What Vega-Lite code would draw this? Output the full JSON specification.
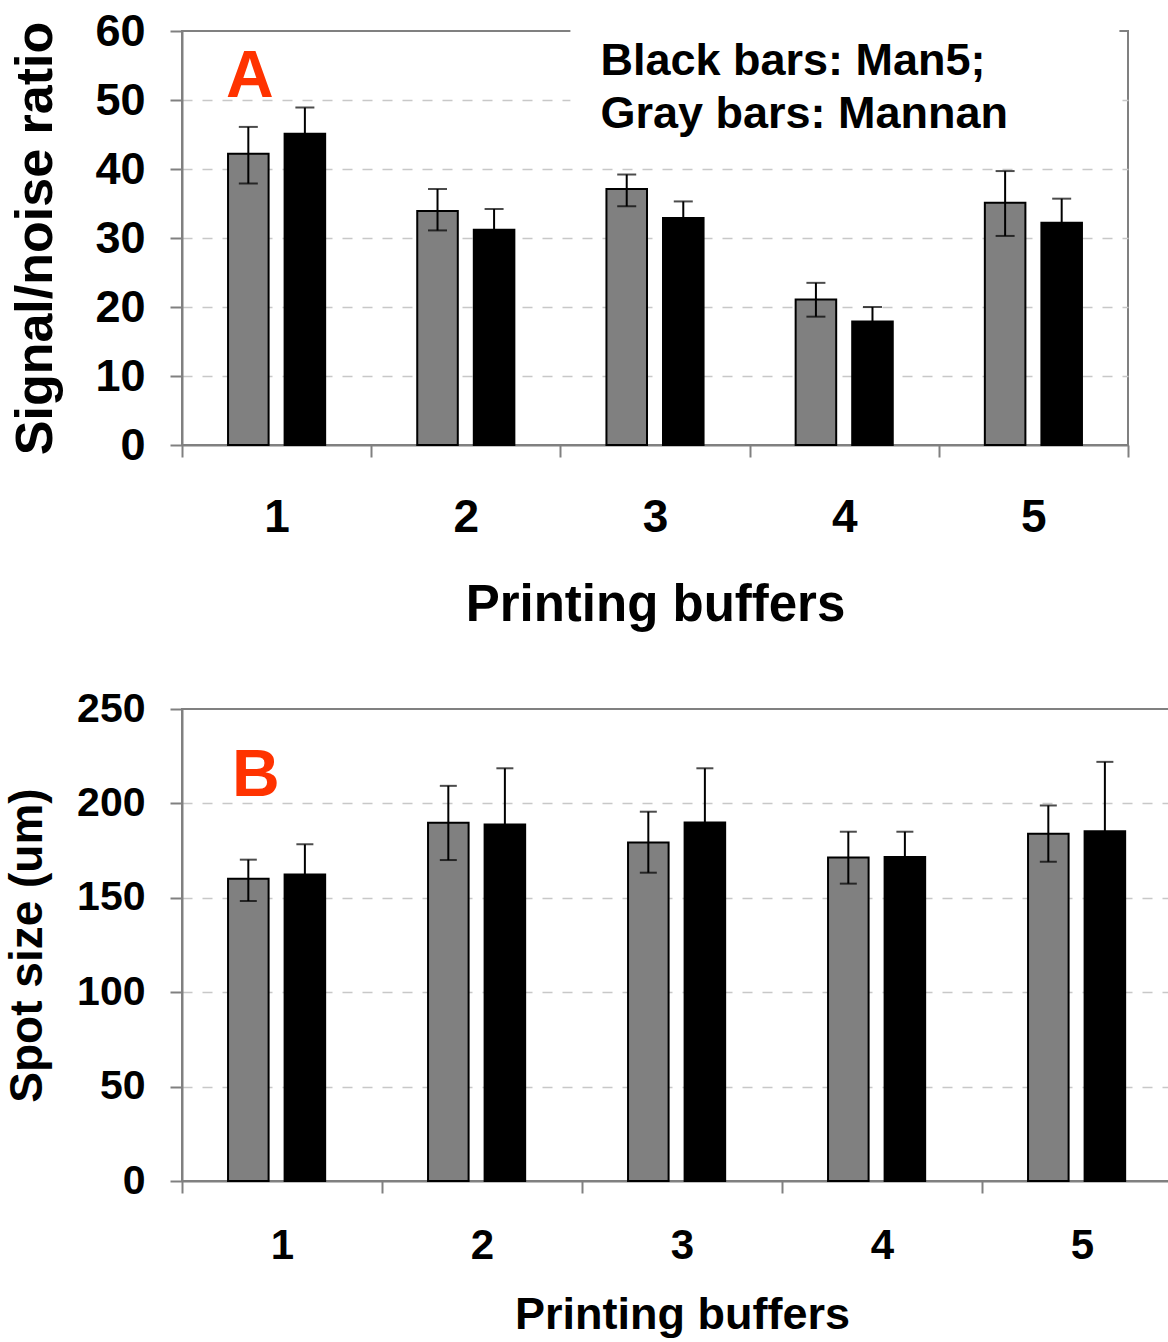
{
  "$schema": "https://vega.github.io/schema/vega-lite/v6.json",
  "padding": {"left": 3, "top": 8, "right": 0, "bottom": 0},
  "spacing": 56,
  "config": {
    "font": "Liberation Sans",
    "view": {"stroke": "#808080", "strokeWidth": 2},
    "axis": {
      "labelFontWeight": "bold", "titleFontWeight": "bold",
      "labelColor": "#000000", "titleColor": "#000000",
      "domainColor": "#808080", "domainWidth": 2,
      "tickColor": "#808080", "tickWidth": 2, "tickSize": 12
    }
  },
  "datasets": {
    "snr": [
      {"buffer": "1", "series": "Mannan", "v": 42.2, "lo": 37.9, "hi": 46.1},
      {"buffer": "1", "series": "Man5", "v": 45.1, "lo": 41.2, "hi": 48.9},
      {"buffer": "2", "series": "Mannan", "v": 33.9, "lo": 31.1, "hi": 37.1},
      {"buffer": "2", "series": "Man5", "v": 31.2, "lo": 28.2, "hi": 34.2},
      {"buffer": "3", "series": "Mannan", "v": 37.1, "lo": 34.6, "hi": 39.2},
      {"buffer": "3", "series": "Man5", "v": 32.9, "lo": 30.5, "hi": 35.3},
      {"buffer": "4", "series": "Mannan", "v": 21.1, "lo": 18.6, "hi": 23.5},
      {"buffer": "4", "series": "Man5", "v": 17.9, "lo": 15.8, "hi": 20.0},
      {"buffer": "5", "series": "Mannan", "v": 35.1, "lo": 30.3, "hi": 39.7},
      {"buffer": "5", "series": "Man5", "v": 32.2, "lo": 28.7, "hi": 35.7}
    ],
    "spot": [
      {"buffer": "1", "series": "Mannan", "v": 160.1, "lo": 148.3, "hi": 170.2},
      {"buffer": "1", "series": "Man5", "v": 162.4, "lo": 146.5, "hi": 178.3},
      {"buffer": "2", "series": "Mannan", "v": 189.7, "lo": 170.0, "hi": 209.3},
      {"buffer": "2", "series": "Man5", "v": 188.8, "lo": 159.0, "hi": 218.6},
      {"buffer": "3", "series": "Mannan", "v": 179.3, "lo": 163.3, "hi": 195.6},
      {"buffer": "3", "series": "Man5", "v": 189.9, "lo": 161.2, "hi": 218.6},
      {"buffer": "4", "series": "Mannan", "v": 171.4, "lo": 157.5, "hi": 185.0},
      {"buffer": "4", "series": "Man5", "v": 171.6, "lo": 158.2, "hi": 185.0},
      {"buffer": "5", "series": "Mannan", "v": 183.9, "lo": 169.1, "hi": 198.9},
      {"buffer": "5", "series": "Man5", "v": 185.3, "lo": 148.6, "hi": 222.0}
    ]
  },
  "vconcat": [
    {
      "width": 946,
      "height": 414,
      "data": {"name": "snr"},
      "encoding": {
        "x": {
          "field": "buffer", "type": "nominal",
          "scale": {"paddingInner": 0, "paddingOuter": 0},
          "axis": {
            "title": "Printing buffers", "tickBand": "extent", "labelAngle": 0,
            "labelFontSize": 46, "labelPadding": 38, "titleFontSize": 51, "titlePadding": 40
          }
        },
        "xOffset": {"field": "series", "type": "nominal", "sort": ["Mannan", "Man5"], "scale": {"paddingInner": 0.283, "paddingOuter": 0.814}}
      },
      "layer": [
        {
          "mark": {"type": "bar", "stroke": "#000000", "strokeWidth": 2},
          "encoding": {
            "y": {
              "field": "v", "type": "quantitative",
              "scale": {"domain": [0, 60], "nice": false},
              "axis": {
                "title": "Signal/noise ratio", "values": [0, 10, 20, 30, 40, 50, 60],
                "grid": true, "gridDash": [10, 10], "gridWidth": 1.5,
                "gridColor": {"condition": {"test": "datum.value == 0 || datum.value == 60", "value": "transparent"}, "value": "#c8c8c8"},
                "labelFontSize": 45, "labelPadding": 25, "titleFontSize": 52, "titlePadding": 32
              }
            },
            "color": {"field": "series", "type": "nominal", "scale": {"domain": ["Mannan", "Man5"], "range": ["#808080", "#000000"]}, "legend": null}
          }
        },
        {
          "mark": {"type": "rule", "color": "#000000", "strokeWidth": 2},
          "encoding": {"y": {"field": "lo", "type": "quantitative"}, "y2": {"field": "hi"}}
        },
        {
          "mark": {"type": "tick", "color": "#000000", "thickness": 2, "size": 19},
          "encoding": {"y": {"field": "hi", "type": "quantitative"}}
        },
        {
          "mark": {"type": "tick", "color": "#000000", "thickness": 2, "size": 19},
          "encoding": {"y": {"field": "lo", "type": "quantitative"}}
        },
        {
          "data": {"values": [{"from": "3", "to": "5", "y": 44, "y2": 61}]},
          "mark": {"type": "rect", "color": "#ffffff", "xOffset": 10, "x2Offset": 86},
          "encoding": {
            "x": {"field": "from", "type": "nominal", "bandPosition": 0},
            "x2": {"field": "to"},
            "xOffset": null,
            "y": {"field": "y", "type": "quantitative"},
            "y2": {"field": "y2"}
          }
        },
        {
          "data": {"values": [{"buffer": "1", "y": 50.4, "label": "A"}]},
          "mark": {"type": "text", "fontSize": 66, "fontWeight": "bold", "color": "#ff3300", "align": "left", "baseline": "alphabetic", "dx": 44},
          "encoding": {
            "x": {"field": "buffer", "type": "nominal", "bandPosition": 0},
            "xOffset": null,
            "y": {"field": "y", "type": "quantitative"},
            "text": {"field": "label"}
          }
        },
        {
          "data": {"values": [{"buffer": "3", "y": 53.6, "label": "Black bars: Man5;\nGray bars: Mannan"}]},
          "mark": {"type": "text", "fontSize": 45, "fontWeight": "bold", "color": "#000000", "align": "left", "baseline": "alphabetic", "dx": 40, "lineBreak": "\n", "lineHeight": 53},
          "encoding": {
            "x": {"field": "buffer", "type": "nominal", "bandPosition": 0},
            "xOffset": null,
            "y": {"field": "y", "type": "quantitative"},
            "text": {"field": "label"}
          }
        }
      ]
    },
    {
      "width": 1000,
      "height": 472,
      "data": {"name": "spot"},
      "encoding": {
        "x": {
          "field": "buffer", "type": "nominal",
          "scale": {"paddingInner": 0, "paddingOuter": 0},
          "axis": {
            "title": "Printing buffers", "tickBand": "extent", "labelAngle": 0,
            "labelFontSize": 42, "labelPadding": 32, "titleFontSize": 45, "titlePadding": 26
          }
        },
        "xOffset": {"field": "series", "type": "nominal", "sort": ["Mannan", "Man5"], "scale": {"paddingInner": 0.17, "paddingOuter": 0.87}}
      },
      "layer": [
        {
          "mark": {"type": "bar", "stroke": "#000000", "strokeWidth": 2},
          "encoding": {
            "y": {
              "field": "v", "type": "quantitative",
              "scale": {"domain": [0, 250], "nice": false},
              "axis": {
                "title": "Spot size (um)", "values": [0, 50, 100, 150, 200, 250],
                "grid": true, "gridDash": [10, 10], "gridWidth": 1.5,
                "gridColor": {"condition": {"test": "datum.value == 0 || datum.value == 250", "value": "transparent"}, "value": "#c8c8c8"},
                "labelFontSize": 41, "labelPadding": 25, "titleFontSize": 46, "titlePadding": 25
              }
            },
            "color": {"field": "series", "type": "nominal", "scale": {"domain": ["Mannan", "Man5"], "range": ["#808080", "#000000"]}, "legend": null}
          }
        },
        {
          "mark": {"type": "rule", "color": "#000000", "strokeWidth": 2},
          "encoding": {"y": {"field": "lo", "type": "quantitative"}, "y2": {"field": "hi"}}
        },
        {
          "mark": {"type": "tick", "color": "#000000", "thickness": 2, "size": 17},
          "encoding": {"y": {"field": "hi", "type": "quantitative"}}
        },
        {
          "mark": {"type": "tick", "color": "#000000", "thickness": 2, "size": 17},
          "encoding": {"y": {"field": "lo", "type": "quantitative"}}
        },
        {
          "data": {"values": [{"buffer": "1", "y": 204, "label": "B"}]},
          "mark": {"type": "text", "fontSize": 66, "fontWeight": "bold", "color": "#ff3300", "align": "left", "baseline": "alphabetic", "dx": 50},
          "encoding": {
            "x": {"field": "buffer", "type": "nominal", "bandPosition": 0},
            "xOffset": null,
            "y": {"field": "y", "type": "quantitative"},
            "text": {"field": "label"}
          }
        }
      ]
    }
  ]
}
